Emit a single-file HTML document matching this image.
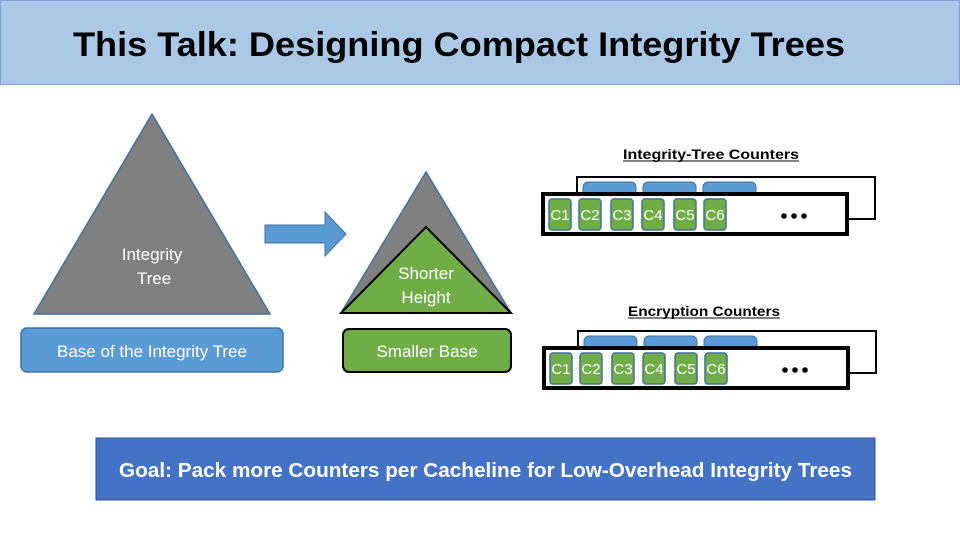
<!DOCTYPE html><html><head><style>body{margin:0;width:960px;height:540px;background:#fff;overflow:hidden}</style></head><body>
<svg width="960" height="540" xmlns="http://www.w3.org/2000/svg" font-family="Liberation Sans, sans-serif">
<rect x="0.5" y="0.5" width="959" height="84" fill="#abc8e7" stroke="#7ea3d3"/>
<text x="73" y="56" font-size="34" font-weight="bold" fill="#000" textLength="772" lengthAdjust="spacingAndGlyphs">This Talk: Designing Compact Integrity Trees</text>
<polygon points="152,114 34,314 270,314" fill="#808080" stroke="#41719c" stroke-width="1.5"/>
<text x="152" y="260" font-size="17" fill="#fff" text-anchor="middle">Integrity</text>
<text x="154" y="284" font-size="17" fill="#fff" text-anchor="middle">Tree</text>
<rect x="21" y="328" width="262" height="44" rx="6" fill="#5b9bd5" stroke="#41719c" stroke-width="1.5"/>
<text x="152" y="357" font-size="17" fill="#fff" text-anchor="middle">Base of the Integrity Tree</text>
<polygon points="265,225 325,225 325,212 346,234 325,256 325,243 265,243" fill="#5b9bd5" stroke="#41719c"/>
<polygon points="426,172 341,313 511,313" fill="#808080" stroke="#41719c" stroke-width="1.5"/>
<polygon points="426,227 341,313 511,313" fill="#70ad47" stroke="#000" stroke-width="2"/>
<text x="426" y="279" font-size="17" fill="#fff" text-anchor="middle">Shorter</text>
<text x="426" y="303" font-size="17" fill="#fff" text-anchor="middle">Height</text>
<rect x="343" y="329" width="168" height="43" rx="6" fill="#70ad47" stroke="#000" stroke-width="2"/>
<text x="427" y="357" font-size="17" fill="#fff" text-anchor="middle">Smaller Base</text>
<g font-size="14" font-weight="bold">
<text x="623" y="159" textLength="176" lengthAdjust="spacingAndGlyphs">Integrity-Tree Counters</text>
<line x1="623" y1="161" x2="799" y2="161" stroke="#000"/>
<text x="628" y="316" textLength="152" lengthAdjust="spacingAndGlyphs">Encryption Counters</text>
<line x1="628" y1="318" x2="780" y2="318" stroke="#000"/>
</g>
<g id="c1">
<rect x="577" y="177" width="298" height="42" fill="#fff" stroke="#000" stroke-width="2"/>
<rect x="583" y="182" width="53" height="16" rx="5" fill="#5b9bd5" stroke="#41719c"/>
<rect x="643" y="182" width="53" height="16" rx="5" fill="#5b9bd5" stroke="#41719c"/>
<rect x="703" y="182" width="53" height="16" rx="5" fill="#5b9bd5" stroke="#41719c"/>
<rect x="543" y="194" width="304" height="40" fill="#fff" stroke="#000" stroke-width="4"/>
<g fill="#70ad47" stroke="#41719c" stroke-width="1.5">
<rect x="549" y="199" width="22" height="31" rx="3"/><rect x="579" y="199" width="22" height="31" rx="3"/><rect x="611" y="199" width="22" height="31" rx="3"/><rect x="642" y="199" width="22" height="31" rx="3"/><rect x="674" y="199" width="22" height="31" rx="3"/><rect x="704" y="199" width="22" height="31" rx="3"/></g>
<g font-size="15" fill="#fff" text-anchor="middle"><text x="560" y="220">C1</text><text x="590" y="220">C2</text><text x="622" y="220">C3</text><text x="653" y="220">C4</text><text x="685" y="220">C5</text><text x="715" y="220">C6</text></g>
<g fill="#000"><circle cx="784" cy="216" r="2.8"/><circle cx="794" cy="216" r="2.8"/><circle cx="804" cy="216" r="2.8"/></g>
</g>
<use href="#c1" transform="translate(1,154)"/>
<rect x="96" y="438" width="779" height="62" fill="#4472c4" stroke="#2f528f"/>
<text x="119" y="477" font-size="20" font-weight="bold" fill="#fff" textLength="733" lengthAdjust="spacingAndGlyphs">Goal: Pack more Counters per Cacheline for Low-Overhead Integrity Trees</text>
</svg></body></html>
